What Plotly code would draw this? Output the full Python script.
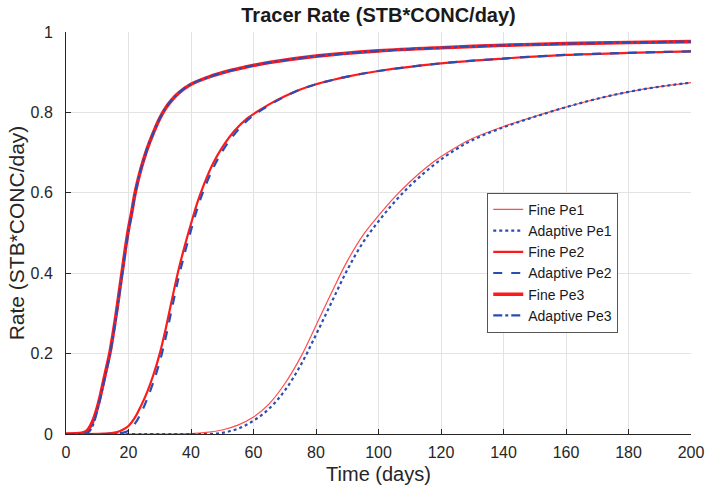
import plotly.graph_objects as go

# ---------------- data ----------------
days_pe1 = [0, 40, 45, 50, 55, 60, 65, 70, 75, 80, 85, 90, 95, 100, 105, 110, 115, 120, 125, 130, 140, 150, 160, 170, 180, 190, 200]
fine_pe1 = [0, 0.001, 0.004, 0.01, 0.022, 0.042, 0.075, 0.125, 0.19, 0.27, 0.352, 0.43, 0.494, 0.543, 0.588, 0.627, 0.661, 0.69, 0.714, 0.735, 0.765, 0.79, 0.813, 0.834, 0.851, 0.864, 0.874]
adapt_pe1 = [0, 0, 0, 0.003, 0.013, 0.033, 0.063, 0.108, 0.17, 0.247, 0.328, 0.408, 0.476, 0.529, 0.576, 0.617, 0.652, 0.683, 0.709, 0.731, 0.763, 0.789, 0.813, 0.834, 0.851, 0.864, 0.874]

days_pe2 = [0, 12, 16, 18, 20, 22, 24, 26, 28, 30, 32, 34, 36, 38, 40, 42, 44, 47, 50, 54, 58, 61, 65, 70, 75, 80, 85, 90, 100, 120, 140, 160, 180, 200]
fine_pe2 = [0, 0.001, 0.004, 0.01, 0.02, 0.04, 0.07, 0.105, 0.148, 0.2, 0.265, 0.338, 0.408, 0.468, 0.523, 0.575, 0.618, 0.672, 0.713, 0.755, 0.785, 0.801, 0.820, 0.840, 0.857, 0.870, 0.880, 0.889, 0.903, 0.922, 0.934, 0.943, 0.948, 0.952]
adapt_pe2 = [0, 0, 0.001, 0.003, 0.008, 0.025, 0.052, 0.088, 0.13, 0.18, 0.243, 0.316, 0.388, 0.45, 0.507, 0.56, 0.605, 0.66, 0.703, 0.747, 0.780, 0.798, 0.818, 0.839, 0.857, 0.870, 0.880, 0.889, 0.903, 0.922, 0.934, 0.943, 0.948, 0.952]

days_pe3 = [0, 5, 6, 7, 8, 9, 10, 11, 12, 13, 14, 15, 16, 17, 18, 19, 20, 21, 22, 23, 24, 26, 28, 30, 32, 34, 36, 40, 46, 52, 57, 65, 80, 100, 120, 140, 160, 180, 200]
fine_pe3 = [0, 0.002, 0.004, 0.01, 0.022, 0.04, 0.065, 0.095, 0.13, 0.165, 0.2, 0.245, 0.295, 0.35, 0.405, 0.46, 0.51, 0.55, 0.595, 0.63, 0.66, 0.71, 0.75, 0.785, 0.812, 0.832, 0.848, 0.870, 0.889, 0.903, 0.912, 0.924, 0.940, 0.953, 0.961, 0.967, 0.971, 0.974, 0.976]
adapt_pe3 = [0, 0, 0.001, 0.003, 0.012, 0.03, 0.058, 0.09, 0.125, 0.16, 0.195, 0.24, 0.29, 0.345, 0.40, 0.455, 0.505, 0.548, 0.593, 0.629, 0.659, 0.71, 0.75, 0.785, 0.812, 0.832, 0.848, 0.870, 0.889, 0.903, 0.912, 0.924, 0.940, 0.953, 0.961, 0.967, 0.971, 0.974, 0.976]

x_ticks = [0, 20, 40, 60, 80, 100, 120, 140, 160, 180, 200]
y_ticks = [0, 0.2, 0.4, 0.6, 0.8, 1]
y_tick_text = ["0", "0.2", "0.4", "0.6", "0.8", "1"]

# ---------------- styling ----------------
RED = "#ff1a1a"
RED_LIGHT = "#ff4d4d"
BLUE = "#2a4cb5"
FONT = "Liberation Sans, Arial, sans-serif"

series = [
    ("Fine Pe1", days_pe1, fine_pe1, RED_LIGHT, 1.2, "solid"),
    ("Adaptive Pe1", days_pe1, adapt_pe1, BLUE, 2.2, "dot"),
    ("Fine Pe2", days_pe2, fine_pe2, RED, 2.2, "solid"),
    ("Adaptive Pe2", days_pe2, adapt_pe2, BLUE, 2.2, "dash"),
    ("Fine Pe3", days_pe3, fine_pe3, RED, 3.6, "solid"),
    ("Adaptive Pe3", days_pe3, adapt_pe3, BLUE, 2.2, "dashdot"),
]

fig = go.Figure()
for name, xs, ys, color, width, dash in series:
    fig.add_trace(go.Scatter(
        x=xs, y=ys, name=name, mode="lines",
        line=dict(color=color, width=width, dash=dash, shape="spline", smoothing=1.0),
    ))

L, R, T, B = 66, 21, 31.5, 59.5
fig.update_layout(
    width=712, height=494,
    margin=dict(l=L, r=R, t=T, b=B, autoexpand=False),
    paper_bgcolor="white", plot_bgcolor="white",
    font=dict(family=FONT, size=16, color="#262626"),
    title=dict(text="<b>Tracer Rate (STB*CONC/day)</b>", x=(L + 712 - R) / 2 / 712, xanchor="center",
               y=1 - 14.5 / 494, yanchor="middle", font=dict(size=20, color="#1a1a1a")),
    showlegend=True,
    legend=dict(x=0.674, y=0.60, xanchor="left", yanchor="top",
                bgcolor="white", bordercolor="#555555", borderwidth=1,
                font=dict(size=14, color="#1a1a1a"), tracegroupgap=0),
)
fig.update_xaxes(
    range=[0, 200], tickvals=x_ticks, ticks="inside", ticklen=5, tickcolor="#262626",
    showline=True, linecolor="#262626", linewidth=1, mirror=False, automargin=False,
    showgrid=True, gridcolor="#e3e3e3", gridwidth=1, zeroline=False,
    title=dict(text="Time (days)", font=dict(size=20), standoff=6),
    ticklabelstandoff=4,
)
fig.update_yaxes(
    range=[0, 1], tickvals=y_ticks, ticktext=y_tick_text, ticks="inside", ticklen=5, tickcolor="#262626",
    showline=True, linecolor="#262626", linewidth=1, mirror=False, automargin=False,
    showgrid=True, gridcolor="#e3e3e3", gridwidth=1, zeroline=False,
    title=dict(text="Rate (STB*CONC/day)", font=dict(size=21), standoff=0),
    ticklabelstandoff=9,
)

fig.write_html(
    "out.html",
    config={"displayModeBar": False},
    post_script="document.body.style.margin='0';document.body.style.overflow='hidden';",
)
